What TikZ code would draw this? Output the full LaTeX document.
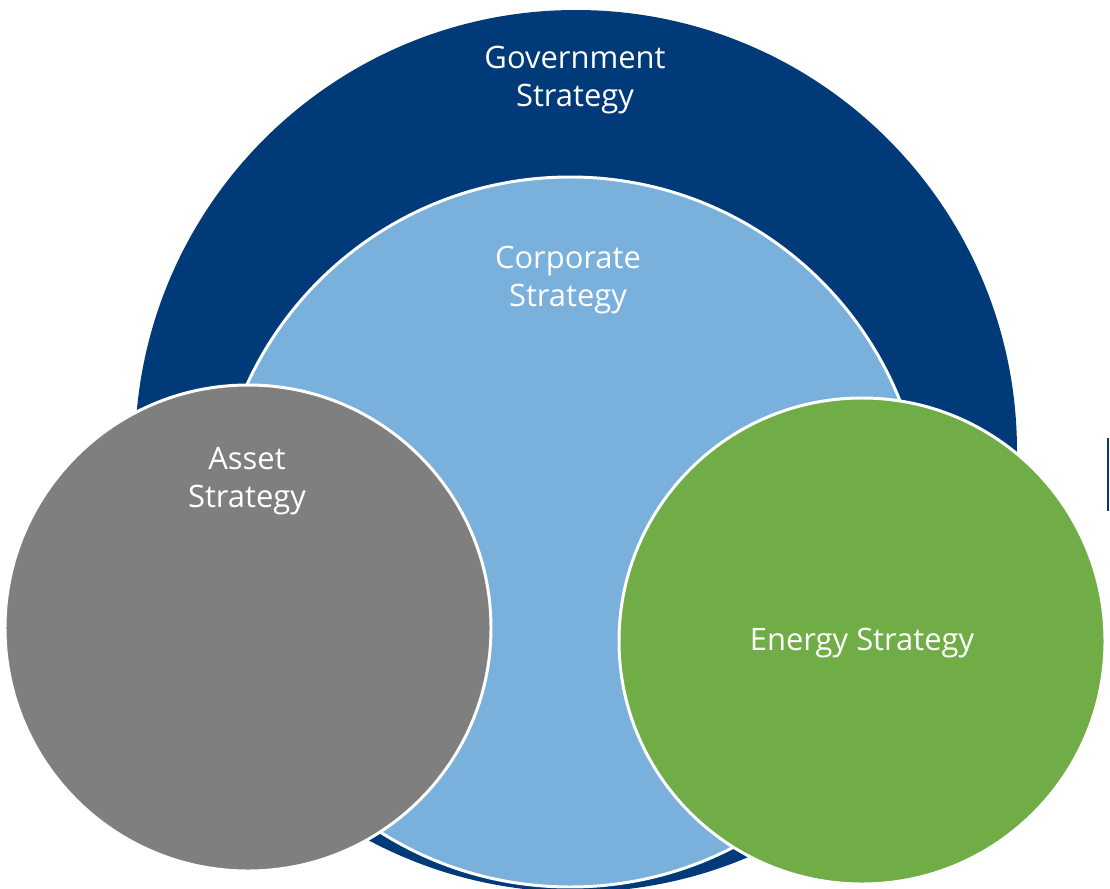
\documentclass[tikz,border=0pt]{standalone}
\usepackage{fontspec}
\setmainfont{Open Sans}

\definecolor{govblue}{RGB}{0,58,120}
\definecolor{corpblue}{RGB}{122,176,220}
\definecolor{assetgrey}{RGB}{127,127,127}
\definecolor{energygreen}{RGB}{112,173,71}

\tikzset{
    ring/.style={draw=white, line width=1.7pt},
    label/.style={text=white, align=center, font=\fontsize{17.6}{21.6}\selectfont}
}

\begin{document}
\begin{tikzpicture}[x=0.02cm, y=-0.02cm]
    \useasboundingbox (0,0) rectangle (1110,889);

    \coordinate (gov) at (576, 451);
    \coordinate (corp) at (570, 532);
    \coordinate (asset) at (248, 628);
    \coordinate (energy) at (862, 641);

    \fill[govblue] (gov) circle[radius=441];
    \draw[ring, fill=corpblue] (corp) circle[radius=355];
    \draw[ring, fill=assetgrey] (asset) circle[radius=243];
    \draw[ring, fill=energygreen] (energy) circle[radius=243];

    % small mark at the right edge
    \draw[govblue, line width=1.2pt] (1108, 438) -- (1108, 511);

    \node[label] (govtext) at (575, 80) {Government\\Strategy};
    \node[label] (corptext) at (568, 280) {Corporate\\Strategy};
    \node[label] (assettext) at (247, 481) {Asset\\Strategy};
    \node[label] (energytext) at (862, 643) {Energy Strategy};
\end{tikzpicture}
\end{document}
